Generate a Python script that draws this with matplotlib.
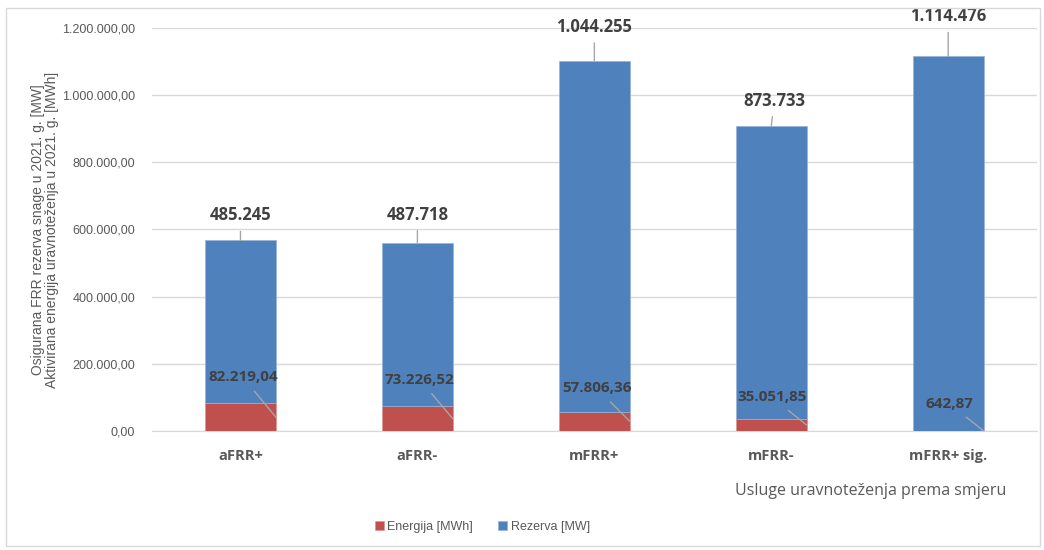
import numpy as np
import matplotlib.pyplot as plt
from matplotlib.patches import Rectangle
from matplotlib.ticker import FuncFormatter

# data
categories = ["aFRR+", "aFRR-", "mFRR+", "mFRR-", "mFRR+ sig."]
energija = [82219.04, 73226.52, 57806.36, 35051.85, 642.87]
rezerva = [485245, 487718, 1044255, 873733, 1114476]

# label offsets in pixels (layout only)
top_off = [(0, 25), (0, 28), (0, 34), (3, 25), (0, 40)]
bot_off = [(-33, 40), (-33, 39), (-33, 33), (-35, 28), (-34, 27)]

BLUE = "#4f81bd"
RED = "#c0504d"
GRAY = "#595959"
DARK = "#404040"
GRID = "#d9d9d9"


def fmt_de(v, dec):
    s = f"{v:,.{dec}f}"
    return s.replace(",", "X").replace(".", ",").replace("X", ".")


fig = plt.figure(figsize=(10.44, 5.5), dpi=100)
ax = fig.add_axes([0.1456, 0.2164, 0.8474, 0.7327])

x = np.arange(len(categories))
w = 0.4
ax.bar(x, energija, w, color=RED, edgecolor="#d99694", linewidth=0.5,
       label="Energija [MWh]", zorder=3)
ax.bar(x, rezerva, w, bottom=energija, color=BLUE, edgecolor="#95b3d7",
       linewidth=0.5, label="Rezerva [MW]", zorder=3)

ax.set_xlim(-0.5, len(categories) - 0.5)
ax.set_ylim(0, 1200000)
ax.set_yticks(np.arange(0, 1200001, 200000))
ax.yaxis.set_major_formatter(FuncFormatter(lambda v, p: fmt_de(v, 2)))
ax.grid(axis="y", color=GRID, linewidth=1, zorder=0)
for s in ["top", "right", "left"]:
    ax.spines[s].set_visible(False)
ax.spines["bottom"].set_color(GRID)
ax.tick_params(axis="both", length=0)
ax.tick_params(axis="y", pad=12, labelcolor=GRAY, labelsize=9)
ax.set_xticks(x)
ax.set_xticklabels(categories, fontfamily="Open Sans", fontweight="bold",
                   fontsize=10.5, color=GRAY)
ax.tick_params(axis="x", pad=13)
for t in ax.get_yticklabels():
    t.set_fontfamily("Liberation Sans")

# top labels (rezerva)
for i in range(len(categories)):
    tot = energija[i] + rezerva[i]
    ax.annotate(fmt_de(rezerva[i], 0), xy=(i, tot), xytext=top_off[i],
                textcoords="offset pixels", ha="center", va="center",
                fontfamily="Open Sans", fontweight="bold", fontsize=12,
                color=DARK,
                arrowprops=dict(arrowstyle="-", color="#a6a6a6", lw=1,
                                shrinkA=3, shrinkB=0))

# bottom labels (energija)
for i in range(len(categories)):
    ax.annotate(fmt_de(energija[i], 2), xy=(i + w / 2, energija[i] / 2),
                xytext=bot_off[i], textcoords="offset pixels",
                ha="center", va="center", fontfamily="Open Sans",
                fontweight="bold", fontsize=11, color=DARK, zorder=5,
                arrowprops=dict(arrowstyle="-", color="#a6a6a6", lw=1,
                                shrinkA=4, shrinkB=0))

ax.set_ylabel("Osigurana FRR rezerva snage u 2021. g. [MW]\n"
              "Aktivirana energija uravnoteženja u 2021. g. [MWh]",
              fontfamily="Liberation Sans", fontsize=10, color=GRAY,
              linespacing=1.05)
ax.yaxis.set_label_coords(-0.105, 0.5)

fig.text(0.834, 0.108, "Usluge uravnoteženja prema smjeru", ha="center",
         va="center", fontfamily="Open Sans", fontsize=11.5, color=GRAY)

leg = fig.legend(loc="center", bbox_to_anchor=(0.462, 0.042), ncol=2,
                 frameon=False, handlelength=0.7, handleheight=0.7,
                 handletextpad=0.3, columnspacing=2.0,
                 prop={"family": "Liberation Sans", "size": 9})
for t in leg.get_texts():
    t.set_color(GRAY)

fig.patches.append(Rectangle((0.006, 0.008), 0.99, 0.978,
                             transform=fig.transFigure, fill=False,
                             edgecolor=GRID, linewidth=1))

fig.savefig("out.png", dpi=100)
